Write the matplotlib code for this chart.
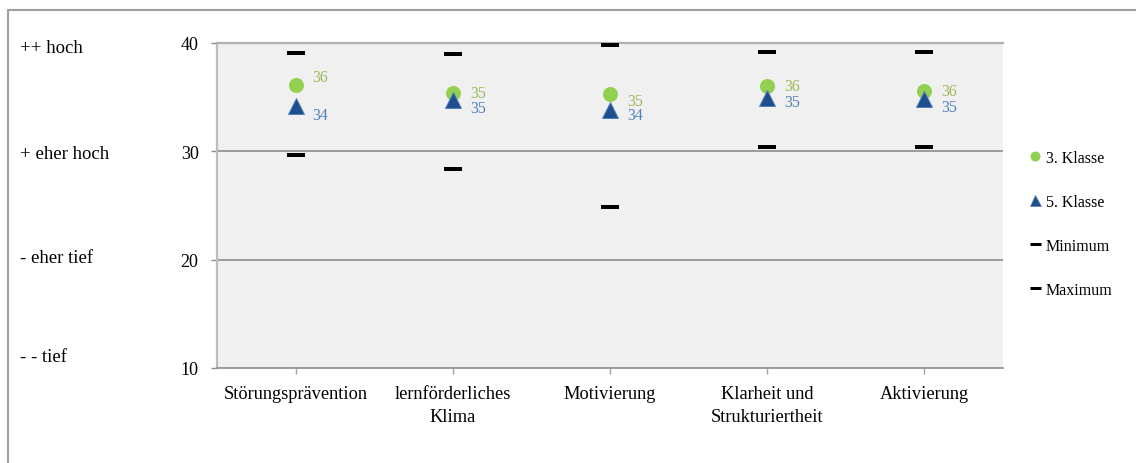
import matplotlib
matplotlib.use("Agg")
import matplotlib.pyplot as plt
from matplotlib.lines import Line2D
from matplotlib.patches import Rectangle
from matplotlib.transforms import blended_transform_factory

# Chart data
CATEGORIES = ["Störungsprävention", "lernförderliches\nKlima", "Motivierung",
              "Klarheit und\nStrukturiertheit", "Aktivierung"]
KLASSE_3 = [36.1, 35.4, 35.3, 36.0, 35.6]
KLASSE_5 = [34.2, 34.7, 33.8, 34.9, 34.8]
MINIMUM = [29.7, 28.4, 24.9, 30.4, 30.4]
MAXIMUM = [39.1, 39.0, 39.8, 39.2, 39.2]
Y_TICKS = [10, 20, 30, 40]
LEVEL_LABELS = ["++ hoch", "+ eher hoch", "- eher tief", "- - tief"]

# Layout / style settings
DPI = 100
PX = 72 / DPI                      # one pixel in points
FONT = ["Liberation Serif", "DejaVu Serif"]
GREEN = "#92D050"
GREEN_TEXT = "#9BBB59"
BLUE = "#1F4E8C"
BLUE_EDGE = "#4F81BD"
BLUE_TEXT = "#4F81BD"
GRID = "#8C8C8C"
LEVEL_Y = [39.6, 29.8, 20.2, 11.1]   # where the level words sit, in data units
# small vertical nudges (pixels, down positive) for the value labels
NUDGE_3 = [-8, 0, 7, 0, 0]
NUDGE_5 = [9, 8, 5, 4, 8]


def main():
    plt.rcParams["font.family"] = FONT
    fig = plt.figure(figsize=(1136 / DPI, 464 / DPI), dpi=DPI)
    ax = fig.add_axes([217 / 1136, 1 - 369 / 464, (1003 - 217) / 1136, (369 - 44) / 464])
    ax.set_facecolor("#F0F0F0")

    x = list(range(len(CATEGORIES)))

    # min / max dashes
    ax.plot(x, MAXIMUM, ls="none", marker="_", ms=18 * PX, mew=4 * PX, color="black", zorder=3)
    ax.plot(x, MINIMUM, ls="none", marker="_", ms=18 * PX, mew=4 * PX, color="black", zorder=3)
    # class means
    ax.plot(x, KLASSE_3, ls="none", marker="o", ms=15 * PX, color=GREEN, mew=0, zorder=4)
    ax.plot(x, KLASSE_5, ls="none", marker="^", ms=16 * PX, color=BLUE,
            mec=BLUE_EDGE, mew=1 * PX, zorder=5)

    # value labels
    for i in x:
        ax.annotate(f"{round(KLASSE_3[i])}", (i, KLASSE_3[i]),
                    xytext=(17 * PX, -NUDGE_3[i] * PX), textcoords="offset points",
                    ha="left", va="center", fontsize=11.5, color=GREEN_TEXT)
        ax.annotate(f"{round(KLASSE_5[i])}", (i, KLASSE_5[i]),
                    xytext=(17 * PX, -NUDGE_5[i] * PX), textcoords="offset points",
                    ha="left", va="center", fontsize=11.5, color=BLUE_TEXT)

    # axes
    ax.set_xlim(-0.5, len(CATEGORIES) - 0.5)
    ax.set_ylim(min(Y_TICKS), max(Y_TICKS))
    ax.set_yticks(Y_TICKS)
    ax.set_xticks(x)
    ax.set_xticklabels(CATEGORIES, fontsize=13.2, linespacing=1.45)
    ax.tick_params(axis="y", labelsize=13, length=6 * PX, width=1, color=GRID, pad=9)
    ax.tick_params(axis="x", length=4, width=1, color="#A6A6A6", pad=8)

    for y in Y_TICKS[1:-1]:
        ax.axhline(y, color=GRID, lw=1.2, zorder=1)
    ax.spines["right"].set_visible(False)
    ax.spines["top"].set_color("#B0B0B0")
    ax.spines["top"].set_linewidth(1.6)
    ax.spines["left"].set_color("#BDBDBD")
    ax.spines["left"].set_linewidth(1.6)
    ax.spines["bottom"].set_color(GRID)
    ax.spines["bottom"].set_linewidth(1.2)

    # level words on the far left
    trans = blended_transform_factory(fig.transFigure, ax.transData)
    for label, y in zip(LEVEL_LABELS, LEVEL_Y):
        ax.text(20 / 1136, y, label, transform=trans, ha="left", va="center",
                fontsize=13.5, clip_on=False)

    # legend
    handles = [
        Line2D([], [], ls="none", marker="o", ms=10 * PX, color=GREEN, mew=0),
        Line2D([], [], ls="none", marker="^", ms=11 * PX, color=BLUE, mec=BLUE_EDGE, mew=0.5),
        Line2D([], [], ls="none", marker="_", ms=11 * PX, mew=3 * PX, color="black"),
        Line2D([], [], ls="none", marker="_", ms=11 * PX, mew=3 * PX, color="black"),
    ]
    fig.legend(handles, ["3. Klasse", "5. Klasse", "Minimum", "Maximum"],
               loc="center left", bbox_to_anchor=(1022 / 1136, 1 - 225 / 464),
               bbox_transform=fig.transFigure, frameon=False, fontsize=11.5,
               labelspacing=1.75, handlelength=0.6, handletextpad=0.4, borderpad=0)

    # outer frame of the chart
    fig.add_artist(Rectangle((7.5 / 1136, -0.1), 1.2, 1 - 11 / 464 + 0.1,
                             transform=fig.transFigure, fill=False,
                             ec="#A0A0A0", lw=1.5))

    fig.savefig("out.png", dpi=DPI)


if __name__ == "__main__":
    main()
